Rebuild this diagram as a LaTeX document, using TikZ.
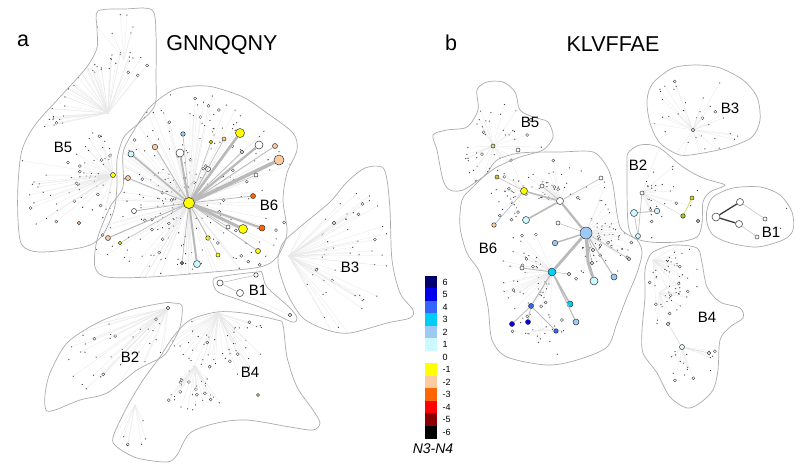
\documentclass[tikz,border=0pt]{standalone}
\usepackage{fontspec}
\setmainfont{Liberation Sans}
\definecolor{c6}{HTML}{00006E}
\definecolor{c5}{HTML}{0000EE}
\definecolor{c4}{HTML}{3366FF}
\definecolor{c3}{HTML}{00CCF5}
\definecolor{c2}{HTML}{9CCAF4}
\definecolor{c1}{HTML}{CCF8FF}
\definecolor{c0}{HTML}{FFFFFF}
\definecolor{cm1}{HTML}{FFFF00}
\definecolor{cm2}{HTML}{FCCBA0}
\definecolor{cm3}{HTML}{FF6600}
\definecolor{cm4}{HTML}{FF0000}
\definecolor{cm5}{HTML}{880000}
\definecolor{cm6}{HTML}{000000}
\tikzset{
 region/.style={draw=gray!65, line width=0.7pt},
 dotn/.style={circle, fill=gray!45!black, inner sep=0pt, minimum size=1.3pt},
 odot/.style={circle, draw=gray!45!black, fill=white, line width=0.35pt, inner sep=0pt, minimum size=3pt},
 fanline/.style={draw=gray!18, line width=0.3pt},
 cn/.style={circle, draw=gray!40!black, line width=0.5pt, inner sep=0pt, minimum size=#1},
 tk/.style={draw=gray!55, line width=#1},
 lbl/.style={font=\fontsize{15}{15}\selectfont},
 ttl/.style={font=\fontsize{21.5}{21.5}\selectfont, anchor=base},
 cbl/.style={font=\fontsize{9}{9}\selectfont, anchor=west},
}
\newcommand\fanout[9]{%
 \coordinate (#1-hub) at (#2,#3);
 \foreach \k in {1,...,#4}{%
  \pgfmathsetmacro\fanA{#5+(#6-#5)*rnd}%
  \pgfmathsetmacro\fanR{#7+(#8-#7)*rnd}%
  \pgfmathsetmacro\fanX{#2+\fanR*cos(\fanA)}%
  \pgfmathsetmacro\fanY{#3+\fanR*sin(\fanA)}%
  \pgfmathsetmacro\fanP{rnd}%
  \pgfmathsetmacro\fanQ{rnd}%
  \ifdim\fanQ pt>0.86pt \tikzset{cur/.style={odot}}\else\tikzset{cur/.style={dotn}}\fi
  \node[cur] (#1-\k) at (\fanX,\fanY) {};
  \ifdim\fanP pt<#9pt \draw[fanline] (#1-hub) -- (#1-\k);\fi
 }}
% region outlines (pixel coordinates, y downwards)
\def\rAfive{plot[smooth cycle,tension=0.5] coordinates {(98,11)(125,9)(152,10)(156,35)(156,75)(155,105)(140,122)(124,137)(117,160)(117,185)(114,210)(102,236)(84,247)(40,252)(22,245)(18,220)(18,185)(22,150)(35,125)(60,97)(86,68)(97,48)(97,28)}}
\def\rAsix{plot[smooth cycle,tension=0.5] coordinates {(173,90)(193,86)(213,87)(243,97)(267,113)(293,133)(297,150)(287,173)(283,200)(287,233)(277,257)(260,267)(213,272)(150,277)(107,277)(95,267)(97,240)(110,207)(123,187)(123,153)(133,132)(150,107)}}
\def\rAthree{plot[smooth cycle,tension=0.5] coordinates {(365,168)(382,167)(387,180)(390,210)(392,260)(400,293)(413,310)(410,318)(387,323)(350,333)(327,330)(303,318)(287,293)(278,263)(283,243)(300,227)(330,202)(347,182)}}
\def\rAone{plot[smooth cycle,tension=0.5] coordinates {(213,282)(218,277)(257,272)(262,273)(267,287)(290,308)(297,318)(292,322)(267,310)(240,300)(218,292)}}
\def\rAtwo{plot[smooth cycle,tension=0.5] coordinates {(163,303)(173,303)(182,306)(180,327)(170,347)(162,357)(137,370)(107,393)(80,400)(55,410)(46,410)(45,395)(50,373)(67,343)(97,323)(130,310)}}
\def\rAfour{plot[smooth cycle,tension=0.5] coordinates {(217,312)(243,313)(277,320)(283,325)(287,357)(297,387)(313,410)(320,423)(313,430)(290,427)(247,420)(217,423)(190,433)(177,455)(167,462)(137,458)(117,447)(113,437)(127,407)(143,380)(160,357)(173,337)(190,320)}}
\def\rBfive{plot[smooth cycle,tension=0.5] coordinates {(433,135)(447,130)(467,127)(478,110)(477,90)(487,82)(503,82)(515,92)(520,110)(533,117)(548,122)(553,137)(543,150)(520,157)(497,167)(483,177)(463,190)(450,190)(443,180)(437,150)}}
\def\rBsix{plot[smooth cycle,tension=0.5] coordinates {(497,160)(520,153)(560,152)(593,152)(607,167)(613,185)(620,227)(637,240)(642,253)(637,273)(627,297)(617,323)(607,347)(577,360)(547,365)(507,357)(492,340)(488,307)(480,273)(467,253)(460,227)(462,200)(473,187)(487,173)}}
\def\rBthree{plot[smooth cycle,tension=0.5] coordinates {(653,83)(673,68)(697,65)(720,68)(743,80)(757,97)(760,120)(752,137)(730,147)(703,153)(680,155)(660,143)(650,123)(647,100)}}
\def\rBtwo{plot[smooth cycle,tension=0.5] coordinates {(628,153)(640,145)(658,147)(683,167)(703,178)(720,183)(725,185)(722,187)(710,192)(703,202)(702,223)(697,237)(677,242)(650,242)(633,237)(628,223)(627,190)(627,167)}}
\def\rBone{plot[smooth cycle,tension=0.5] coordinates {(707,210)(713,197)(733,188)(760,187)(780,195)(792,212)(793,230)(783,240)(757,247)(730,243)(713,235)(707,223)}}
\def\rBfour{plot[smooth cycle,tension=0.5] coordinates {(657,250)(673,245)(697,248)(702,263)(707,287)(720,302)(740,308)(743,318)(730,327)(720,340)(718,370)(713,390)(700,403)(687,408)(670,397)(657,373)(643,353)(642,330)(645,297)(645,270)(650,255)}}
\begin{document}
\begin{tikzpicture}[x=1pt,y=-1pt]
\pgfmathsetseed{7}
\useasboundingbox[fill=white] (0,0) rectangle (800,472);
% ---------------- fans (light edges and small dots) ----------------
\begin{scope}\clip \rAsix;
 \fanout{a6}{189}{203}{240}{0}{360}{14}{105}{0.45}
 \fanout{a6t}{189}{203}{40}{200}{340}{70}{110}{0.6}
\end{scope}
\begin{scope}\clip \rAfive;
 \fanout{a5u}{108}{113}{55}{165}{310}{42}{65}{0.9}
 \fanout{a5l}{113}{175}{50}{95}{265}{12}{48}{0.7}
 \fanout{a5w}{113}{175}{16}{140}{190}{60}{95}{0.9}
 \fanout{a5t}{124}{59}{6}{200}{300}{15}{45}{0.9}
\end{scope}
\begin{scope}\clip \rAthree; \fanout{a3}{289}{256}{55}{-65}{65}{30}{105}{0.8} \end{scope}
\begin{scope}\clip \rAtwo; \fanout{a2}{168}{308}{40}{95}{170}{15}{125}{0.75} \end{scope}
\begin{scope}\clip \rAfour;
 \fanout{a4}{218}{313}{55}{15}{165}{22}{65}{0.8}
 \fanout{a4m}{195}{366}{28}{40}{140}{15}{45}{0.8}
 \fanout{a4l}{135}{405}{8}{60}{130}{15}{55}{0.9}
\end{scope}
\begin{scope}\clip \rBfive; \fanout{b5}{493}{146}{50}{0}{360}{8}{50}{0.6} \end{scope}
\begin{scope}\clip \rBsix;
 \fanout{b6w}{560}{201}{40}{180}{360}{10}{50}{0.6}
 \fanout{b6b}{586}{233}{70}{-70}{110}{12}{50}{0.6}
 \fanout{b6c}{552}{272}{45}{90}{250}{10}{55}{0.6}
 \fanout{b6y}{524}{191}{25}{100}{260}{10}{35}{0.6}
 \fanout{b6m}{540}{330}{24}{0}{360}{5}{30}{0.5}
\end{scope}
\begin{scope}\clip \rBthree; \fanout{b3}{693}{130}{45}{0}{360}{8}{55}{0.7} \end{scope}
\begin{scope}\clip \rBtwo; \fanout{b2}{642}{193}{28}{-70}{80}{8}{60}{0.6} \end{scope}
\begin{scope}\clip \rBone; \fanout{b1}{740}{215}{6}{0}{360}{30}{50}{0} \end{scope}
\begin{scope}\clip \rBfour;
 \fanout{b4a}{653}{260}{34}{-30}{100}{8}{45}{0.7}
 \fanout{b4b}{659}{293}{22}{-40}{100}{8}{40}{0.7}
 \fanout{b4c}{682}{347}{16}{0}{150}{8}{50}{0.7}
\end{scope}
% ---------------- region outlines ----------------
\draw[region] \rAfive; \draw[region] \rAsix; \draw[region] \rAthree;
\draw[region] \rAone; \draw[region] \rAtwo; \draw[region] \rAfour;
\draw[region] \rBfive; \draw[region] \rBsix; \draw[region] \rBthree;
\draw[region] \rBtwo; \draw[region] \rBone; \draw[region] \rBfour;
% ---------------- panel a, B6 star ----------------
\node[cn=11pt, fill=cm1] (aH) at (189,203) {};
\foreach \n/\p/\s/\c/\w in {
 a1/{(240,133)}/9pt/cm1/2.6, a2/{(259,145)}/8pt/white/2.2, a3/{(275,146)}/5pt/cm2/0.8,
 a4/{(279,160)}/10pt/cm2/3.5, a5/{(256,175)}/4pt/white/0.6, a6/{(253,196)}/5pt/cm3/0.8,
 a7/{(243,229)}/9pt/cm1/3, a8/{(262,228)}/6pt/cm3/2, a9/{(258,251)}/5pt/cm1/0.8,
 a10/{(197,264)}/7pt/c1/2, a11/{(182,263)}/3.5pt/gray/0.6, a12/{(208,238)}/4.5pt/cm1/0.6,
 a13/{(108,238)}/5pt/cm2/1, a14/{(134,211)}/5pt/white/0.8, a15/{(128,178)}/5pt/cm2/0.8,
 a16/{(131,154)}/6pt/c1/1.5, a17/{(155,147)}/5.5pt/cm2/0.8, a18/{(180,153)}/8pt/white/2,
 a19/{(183,134)}/4.5pt/c2/0.6, a20/{(208,169)}/5pt/white/0.6, a21/{(224,139)}/4pt/cm2/0.6,
 a22/{(211,142)}/3.5pt/cm1/0.6, a23/{(120,243)}/3.5pt/cm1/0.5, a24/{(228,227)}/4pt/white/0.6,
 a25/{(218,255)}/4pt/cm1/0.6, a26/{(242,152)}/3.5pt/white/0.6}{
 \node[cn=\s, fill=\c] (\n) at \p {};
 \draw[tk=\w pt] (aH) -- (\n);
}
\node[cn=11pt, fill=cm1] at (aH) {};
% panel a, other clusters
\node[cn=5pt, fill=cm1] (a5y) at (113,175) {};
\node[cn=3.5pt, fill=cm2] (a5p) at (79,223) {};
\node[cn=3.5pt, fill=white] (a3o) at (334,223) {};
\node[cn=3.5pt, fill=white] (a2o) at (168,308) {};
\node[cn=3pt, fill=cm1!40] (a4o) at (258,395) {};
\node[cn=6pt, fill=white] (a1a) at (220,283) {};
\node[cn=7pt, fill=white] (a1b) at (240,293) {};
\node[cn=4.5pt, fill=white] (a1c) at (256,275) {};
\node[cn=3.5pt, fill=white] (a1d) at (290,315) {};
\draw[tk=0.5pt] (a1a) -- (a1c);
\draw[tk=0.5pt] (a1a) -- (a1b);
\draw[fanline] (a1b) -- (a1d);
% ---------------- panel b, B6 tree ----------------
\node[cn=7pt, fill=cm1] (bY) at (524,191) {};
\node[cn=7pt, fill=white] (bW) at (560,201) {};
\node[cn=12pt, fill=c2] (bB) at (586,233) {};
\node[cn=7pt, fill=c1] (bLC) at (526,220) {};
\node[cn=4.5pt, fill=cm2] (bP) at (494,225) {};
\node[cn=4pt, fill=cm1!60!gray] (bO) at (497,177) {};
\node[cn=4pt, fill=white] (bo1) at (542,186) {};
\node[cn=4pt, fill=white] (bo2) at (601,178) {};
\node[cn=4pt, fill=white] (bo3) at (558,223) {};
\node[cn=5.5pt, fill=c2] (bL) at (555,243) {};
\node[cn=8pt, fill=c3] (bC) at (552,272) {};
\node[cn=4pt, fill=white] (bo4) at (522,268) {};
\node[cn=6pt, fill=c3] (bC2) at (570,304) {};
\node[cn=6pt, fill=c2] (bL2) at (576,322) {};
\node[cn=8pt, fill=c1] (bLC2) at (594,281) {};
\node[cn=6pt, fill=c2] (bL3) at (614,277) {};
\node[cn=5pt, fill=c4] (bM) at (531,306) {};
\node[cn=5pt, fill=c5] (bD1) at (512,324) {};
\node[cn=5pt, fill=c5] (bD2) at (528,322) {};
\node[cn=4.5pt, fill=c4] (bM2) at (556,331) {};
\node[cn=3.5pt, fill=white] (bo5) at (593,250) {};
\node[cn=3.5pt, fill=white] (bo6) at (592,263) {};
\node[cn=3.5pt, fill=white] (bo7) at (569,274) {};
\node[cn=3.5pt, fill=white] (bo8) at (629,259) {};
\coordinate (bBend) at (588,262);
\draw[tk=1.5pt] (bY) -- (bW);
\draw[tk=1.6pt] (bW) -- (bLC);
\draw[tk=2.2pt] (bW) -- (bB);
\draw[tk=2.8pt] (bB) -- (bC);
\draw[tk=3pt, line join=round] (bB) -- (bBend) -- (bLC2);
\draw[tk=1.4pt] (bB) -- (bL);
\draw[tk=1pt] (bB) -- (bL3);
\draw[tk=0.6pt] (bB) -- (bo5);
\draw[tk=0.6pt] (bB) -- (bo6);
\draw[tk=0.5pt] (bB) -- (bo8);
\draw[tk=1.6pt] (bC) -- (bC2);
\draw[tk=1pt] (bC) -- (bL2);
\draw[tk=1pt] (bC) -- (bM);
\draw[tk=0.8pt] (bC) -- (bo4);
\draw[tk=0.5pt] (bC) -- (bo7);
\draw[tk=0.8pt] (bM) -- (bD1);
\draw[tk=0.8pt] (bM) -- (bD2);
\draw[tk=0.8pt] (bM) -- (bM2);
\draw[tk=0.5pt] (bY) -- (bO);
\draw[tk=0.5pt, draw=c4!40!gray!60] (bY) -- (bP);
\draw[tk=0.5pt] (bW) -- (bo1);
\draw[tk=0.5pt] (bW) -- (bo2);
\draw[tk=0.5pt] (bB) -- (bo3);
% panel b other clusters
\node[cn=4pt, fill=cm1!50!gray!60] (b5h) at (493,146) {};
\node[cn=4pt, fill=white] (b5o) at (518,150) {};
\node[cn=3.5pt, fill=white] (b5p) at (531,120) {};
\draw[fanline] (b5h) -- (b5o);
\node[cn=3.5pt, fill=white] (b3h) at (693,130) {};
\node[cn=7pt, fill=c1] (b2a) at (634,213) {};
\node[cn=5.5pt, fill=c1] (b2b) at (657,211) {};
\node[cn=4pt, fill=white] (b2c) at (642,193) {};
\node[cn=5pt, fill=c1] (b2d) at (638,236) {};
\node[cn=4.5pt, fill=cm1!70!green!60!gray] (b2e) at (683,216) {};
\node[cn=4pt, fill=cm1!70!gray] (b2f) at (692,198) {};
\node[cn=3.5pt, fill=gray!40] (b2g) at (698,221) {};
\draw[tk=0.8pt] (b2a) -- (b2b);
\draw[tk=0.6pt] (b2a) -- (b2d);
\draw[tk=0.6pt] (b2c) -- (b2d);
\draw[tk=0.4pt, draw=gray!35] (b2c) -- (b2e);
\draw[tk=0.5pt, draw=cm1!60!gray] (b2e) -- (b2f);
\node[cn=8pt, fill=white] (bb1) at (716,217) {};
\node[cn=7pt, fill=white] (bb2) at (740,202) {};
\node[cn=7pt, fill=white] (bb3) at (739,224) {};
\node[cn=4pt, fill=white] (bb4) at (765,219) {};
\node[cn=4pt, fill=white] (bb5) at (757,237) {};
\draw[tk=1.3pt, draw=gray!45!black] (bb1) -- (bb2);
\draw[tk=1.3pt, draw=gray!45!black] (bb1) -- (bb3);
\draw[tk=0.5pt, draw=gray!50] (bb2) -- (bb4);
\draw[tk=0.5pt, draw=gray!50] (bb3) -- (bb5);
\node[cn=3.5pt, fill=white] (b4o1) at (668,324) {};
\node[cn=5pt, fill=c1!50] (b4o2) at (682,347) {};
\node[cn=3.5pt, fill=white] (b4o3) at (709,353) {};
\draw[tk=0.4pt, draw=gray!40] (b4o2) -- (b4o3);
\draw[tk=0.4pt, draw=gray!40] (b4o2) -- (b4o1);
% ---------------- labels ----------------
\node[ttl] (ta) at (23,46) {a};
\node[ttl] (tA) at (222,50) {GNNQQNY};
\node[ttl] (tb) at (451,50) {b};
\node[ttl] (tB) at (613,51) {KLVFFAE};
\node[lbl] (la5) at (63,147) {B5};
\node[lbl] (la6) at (269,205) {B6};
\node[lbl] (la3) at (350,267) {B3};
\node[lbl] (la1) at (258,290) {B1};
\node[lbl] (la2) at (130,357) {B2};
\node[lbl] (la4) at (250,372) {B4};
\node[lbl] (lb5) at (530,122) {B5};
\node[lbl] (lb6) at (488,248) {B6};
\node[lbl] (lb3) at (730,108) {B3};
\node[lbl] (lb2) at (638,165) {B2};
\node[lbl] (lb1) at (771,232) {B1};
\node[lbl] (lb4) at (707,317) {B4};
% ---------------- colour bar ----------------
\foreach \c/\t [count=\i from 0] in {c6/6,c5/5,c4/4,c3/3,c2/2,c1/1,c0/0,cm1/-1,cm2/-2,cm3/-3,cm4/-4,cm5/-5,cm6/-6}{
 \node[fill=\c, minimum width=12pt, minimum height=12.6pt, inner sep=0pt] (cb\i) at (431,{282.25+12.5*\i}) {};
 \node[cbl] (cbt\i) at (439,{282.25+12.5*\i}) {\t};
}
\node[font=\fontsize{14}{14}\selectfont\itshape] (cbn) at (433,449) {N3-N4};
\end{tikzpicture}
\end{document}
